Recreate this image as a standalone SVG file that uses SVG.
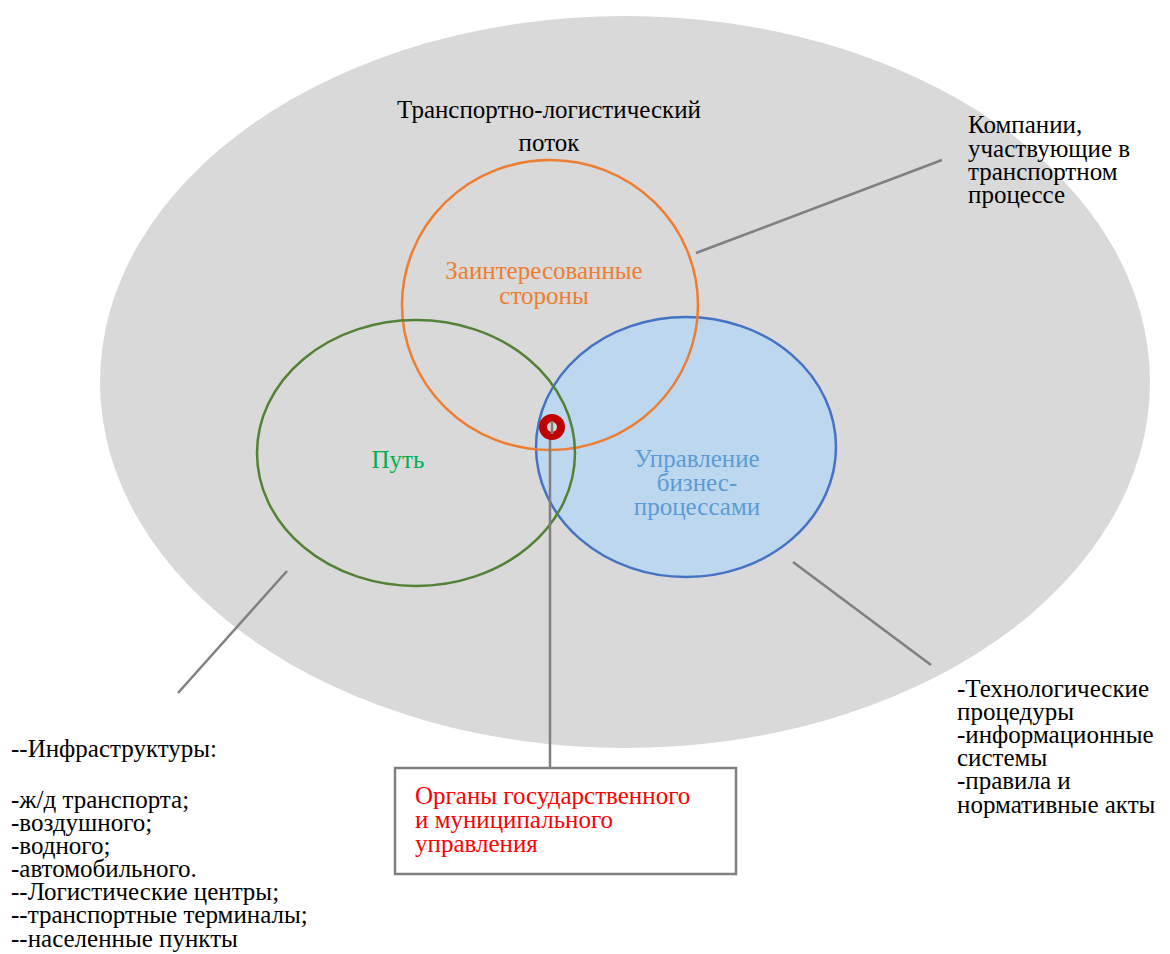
<svg xmlns="http://www.w3.org/2000/svg" width="1170" height="954" viewBox="0 0 1170 954">
<style>
text{font-family:'Liberation Serif','Times New Roman',serif;font-size:25px;fill:#000}
.c{text-anchor:middle}
.con{stroke:#808080;stroke-width:2.5;fill:none}
.org{fill:#ed7d31}
.blu{fill:#5b9bd5}
.grn{fill:#00b050}
.red{fill:#ff0000}
</style>
<rect width="1170" height="954" fill="#fff"/>
<g id="flow">
<ellipse cx="625" cy="382" rx="525" ry="366" fill="#d9d9d9"/>
<text class="c" x="549" y="118">Транспортно-логистический</text>
<text class="c" x="549" y="151">поток</text>
</g>
<g id="management">
<ellipse cx="686" cy="447" rx="150" ry="130" fill="#bdd7ee" stroke="#4472c4" stroke-width="2.5"/>
<text class="c blu" x="697" y="467">Управление</text>
<text class="c blu" x="697" y="491">бизнес-</text>
<text class="c blu" x="697" y="515">процессами</text>
</g>
<g id="stakeholders">
<ellipse cx="550" cy="305" rx="148" ry="145" fill="none" stroke="#ed7d31" stroke-width="2.5"/>
<text class="c org" x="544" y="279">Заинтересованные</text>
<text class="c org" x="544" y="304">стороны</text>
</g>
<g id="path">
<ellipse cx="416" cy="453" rx="159" ry="133" fill="none" stroke="#538135" stroke-width="2.5"/>
<text class="c grn" x="398" y="468">Путь</text>
</g>
<g id="connectors">
<line class="con" x1="696" y1="253" x2="942" y2="160"/>
<line class="con" x1="287" y1="571" x2="178" y2="693"/>
<line class="con" x1="793" y1="562" x2="931" y2="665"/>
<line class="con" x1="550" y1="427" x2="550" y2="768"/>
</g>
<g id="marker">
<circle cx="552" cy="427" r="9" fill="#d9d9d9" stroke="#c00000" stroke-width="8"/>
<line class="con" x1="552" y1="421" x2="552" y2="434"/>
</g>
<g id="companies">
<text x="968" y="133">Компании,</text>
<text x="968" y="157">участвующие в</text>
<text x="968" y="180">транспортном</text>
<text x="968" y="203">процессе</text>
</g>
<g id="tech">
<text x="957" y="697">-Технологические</text>
<text x="957" y="720">процедуры</text>
<text x="957" y="743">-информационные</text>
<text x="957" y="766">системы</text>
<text x="957" y="789">-правила и</text>
<text x="957" y="813">нормативные акты</text>
</g>
<g id="infra">
<text x="11" y="757">--Инфраструктуры:</text>
<text x="11" y="808">-ж/д транспорта;</text>
<text x="11" y="831">-воздушного;</text>
<text x="11" y="854">-водного;</text>
<text x="11" y="877">-автомобильного.</text>
<text x="11" y="900">--Логистические центры;</text>
<text x="11" y="923">--транспортные терминалы;</text>
<text x="11" y="947">--населенные пункты</text>
</g>
<g id="authorities">
<rect x="395" y="768" width="341" height="106" fill="#fff" stroke="#808080" stroke-width="2.5"/>
<text class="red" x="415" y="804">Органы государственного</text>
<text class="red" x="415" y="828">и муниципального</text>
<text class="red" x="415" y="852">управления</text>
</g>
</svg>
